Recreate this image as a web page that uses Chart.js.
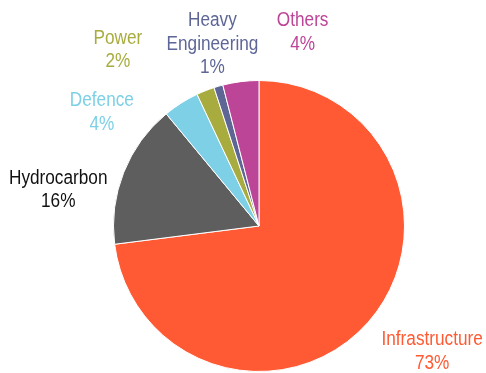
<!DOCTYPE html>
<html>
<head>
<meta charset="utf-8">
<script src="https://cdn.jsdelivr.net/npm/chart.js@4"></script>
<style>
  html, body { margin: 0; padding: 0; background: #fff; }
  #pie { display: block; }
</style>
</head>
<body>
<canvas id="pie" width="486" height="373"></canvas>
<script>
// segments, clockwise from 12 o'clock
const sectors = ['Infrastructure', 'Hydrocarbon', 'Defence', 'Power', 'Heavy Engineering', 'Others'];
const shares = [73, 16, 4, 2, 1, 4];
const sliceColors = ['#ff5a33', '#5e5e5e', '#7dd0e6', '#a8ac3e', '#5e6696', '#bd4597'];
const labelColors = ['#ff5a33', '#111111', '#7dd0e6', '#a8ac3e', '#5e6696', '#bd4597'];

// label lines (text wraps like the original)
const labelLines = [
  ['Infrastructure'], ['Hydrocarbon'], ['Defence'], ['Power'], ['Heavy', 'Engineering'], ['Others']
];
// label anchor relative to pie centre, in radii (x, y of first text line)
const labelPos = [
  [1.19, 0.78], [-1.38, -0.33], [-1.08, -0.86], [-0.97, -1.29], [-0.32, -1.41], [0.30, -1.41]
];

const pieLabels = {
  id: 'pieLabels',
  afterDatasetsDraw(chart) {
    const ctx = chart.ctx;
    const arcs = chart.getDatasetMeta(0).data;
    arcs.forEach((arc, i) => {
      const r = arc.outerRadius;
      const x = arc.x + labelPos[i][0] * r;
      const y = arc.y + labelPos[i][1] * r;
      ctx.save();
      ctx.translate(x, y);
      ctx.scale(0.86, 1); // the original uses a narrow face
      ctx.font = '20px "Liberation Sans", Arial, sans-serif';
      ctx.textAlign = 'center';
      ctx.textBaseline = 'middle';
      ctx.fillStyle = labelColors[i];
      const lines = labelLines[i].concat([shares[i] + '%']);
      lines.forEach((t, k) => ctx.fillText(t, 0, k * 23.5));
      ctx.restore();
    });
  }
};

new Chart(document.getElementById('pie').getContext('2d'), {
  type: 'pie',
  data: {
    labels: sectors,
    datasets: [{
      data: shares,
      backgroundColor: sliceColors,
      borderColor: '#ffffff',
      borderWidth: 1,
      hoverOffset: 0
    }]
  },
  options: {
    responsive: false,
    animation: false,
    layout: { padding: { top: 80, bottom: 1, left: 113, right: 81 } },
    plugins: {
      legend: { display: false },
      tooltip: { enabled: false }
    }
  },
  plugins: [pieLabels]
});
</script>
</body>
</html>
